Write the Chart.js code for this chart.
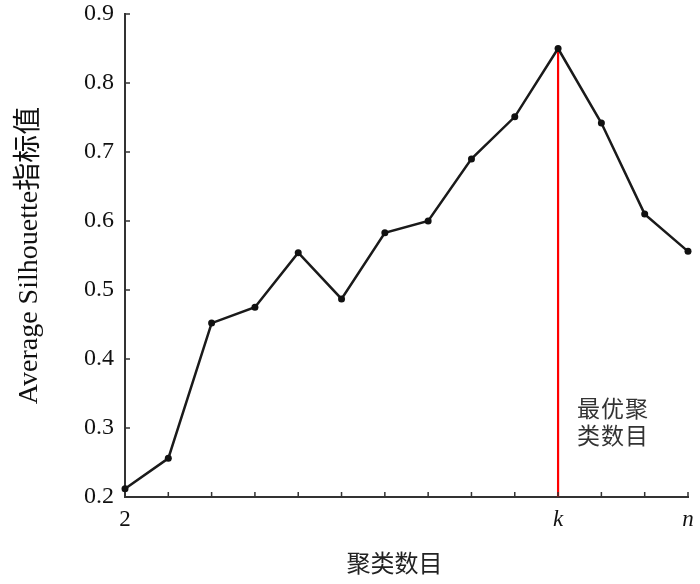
<!DOCTYPE html>
<html>
<head>
<meta charset="utf-8">
<script src="https://cdn.jsdelivr.net/npm/chart.js@4"></script>
<style>
  body { margin: 0; background: #fff; }
</style>
</head>
<body>
<canvas id="silhouette" width="700" height="584"></canvas>
<script>
// cluster index positions (0 = "2", 10 = "k", 13 = "n")
var clusterPos = [0, 1, 2, 3, 4, 5, 6, 7, 8, 9, 10, 11, 12, 13];
var xTickLabels = ['2', '', '', '', '', '', '', '', '', '', 'k', '', '', 'n'];
var silhouette = [0.212, 0.256, 0.452, 0.475, 0.554, 0.487, 0.583, 0.600, 0.690, 0.751, 0.850, 0.742, 0.610, 0.556];
var yTicks = [0.2, 0.3, 0.4, 0.5, 0.6, 0.7, 0.8, 0.9];
var bestK = 10;
var bestLabel = ['最优聚', '类数目'];

var serif = "'Liberation Serif', 'Times New Roman', 'Noto Sans CJK SC', serif";
var cjk = "'Noto Sans CJK SC', sans-serif";

document.addEventListener("DOMContentLoaded", function() {
    var points = clusterPos.map(function(x, i) { return { x: x, y: silhouette[i] }; });
    var bestIdx = clusterPos.indexOf(bestK);
    var redLine = [{ x: bestK, y: yTicks[0] }, { x: bestK, y: silhouette[bestIdx] }];

    // inward tick marks + annotation text
    var extras = {
        id: 'extras',
        afterDraw: function(chart) {
            var c = chart.ctx;
            var xs = chart.scales.x, ys = chart.scales.y;
            var area = chart.chartArea;
            c.save();
            c.strokeStyle = '#333';
            c.lineWidth = 1.5;
            c.beginPath();
            clusterPos.forEach(function(v) {
                var px = xs.getPixelForValue(v);
                c.moveTo(px, area.bottom);
                c.lineTo(px, area.bottom - 5);
            });
            yTicks.forEach(function(v) {
                var py = ys.getPixelForValue(v);
                c.moveTo(area.left, py);
                c.lineTo(area.left + 5, py);
            });
            c.stroke();

            c.fillStyle = '#333';
            c.font = '23px ' + cjk;
            c.textAlign = 'left';
            c.textBaseline = 'middle';
            if (c.letterSpacing !== undefined) c.letterSpacing = '1px';
            var tx = xs.getPixelForValue(bestK) + 19;
            var ty = ys.getPixelForValue(0.33);
            bestLabel.forEach(function(line, i) {
                c.fillText(line, tx, ty + 1 + i * 27);
            });
            c.restore();
        }
    };

    var ctx = document.getElementById("silhouette").getContext("2d");
    var chart = new Chart(ctx, {
        type: 'line',
        data: {
            datasets: [{
                data: points,
                borderColor: '#1a1a1a',
                backgroundColor: '#111',
                borderWidth: 2.5,
                pointRadius: 3.5,
                pointBorderWidth: 0,
                tension: 0,
                clip: false
            }, {
                data: redLine,
                borderColor: '#ff0000',
                borderWidth: 2.2,
                pointRadius: 0,
                clip: false
            }]
        },
        options: {
            responsive: false,
            animation: false,
            layout: { padding: { top: 14, right: 12, left: 0, bottom: 0 } },
            plugins: { legend: { display: false }, tooltip: { enabled: false } },
            scales: {
                x: {
                    type: 'linear',
                    min: 0,
                    max: 13,
                    afterFit: function(s) {
                        s.height = 87;
                        s.paddingLeft = 0;
                        s.paddingRight = 0;
                    },
                    border: { display: true, color: '#333', width: 2 },
                    grid: { drawOnChartArea: false, drawTicks: false },
                    ticks: {
                        stepSize: 1,
                        autoSkip: false,
                        maxRotation: 0,
                        padding: 9,
                        color: '#111',
                        font: function(c) {
                            var v = c.tick ? c.tick.value : 0;
                            var lab = xTickLabels[clusterPos.indexOf(v)] || '';
                            return { family: serif, size: 23, style: (lab === 'k' || lab === 'n') ? 'italic' : 'normal' };
                        },
                        callback: function(v) {
                            var i = clusterPos.indexOf(v);
                            return i >= 0 ? xTickLabels[i] : '';
                        }
                    },
                    title: {
                        display: true,
                        text: '聚类数目　',
                        color: '#222',
                        font: { family: cjk, size: 24 },
                        padding: { top: 0, bottom: 7 }
                    }
                },
                y: {
                    min: 0.2,
                    max: 0.9,
                    afterFit: function(s) {
                        s.width = 125;
                        s.paddingTop = 0;
                        s.paddingBottom = 0;
                    },
                    border: { display: true, color: '#333', width: 2 },
                    grid: { drawOnChartArea: false, drawTicks: false },
                    ticks: {
                        stepSize: 0.1,
                        padding: 11,
                        color: '#111',
                        font: { family: serif, size: 24 },
                        callback: function(v) { return v.toFixed(1); }
                    },
                    title: {
                        display: true,
                        text: 'Average Silhouette指标值',
                        color: '#111',
                        font: { family: serif, size: 28 },
                        padding: { top: 13, bottom: 0 }
                    }
                }
            }
        },
        plugins: [extras]
    });
});
</script>
</body>
</html>
